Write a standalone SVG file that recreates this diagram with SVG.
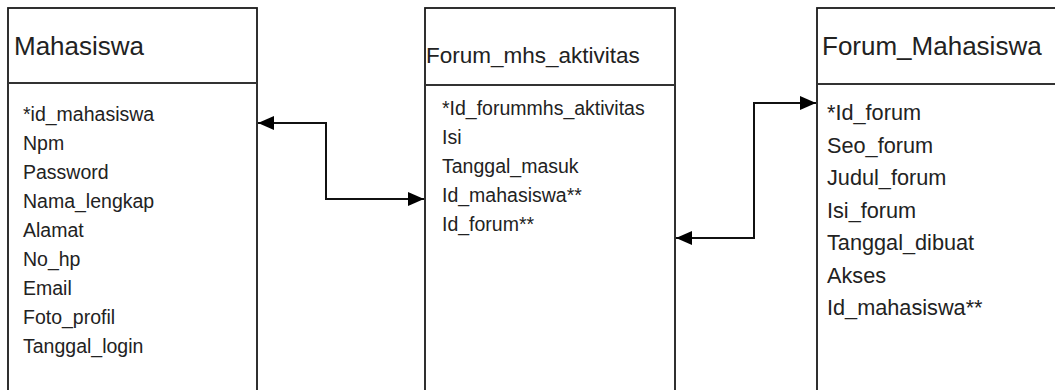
<svg xmlns="http://www.w3.org/2000/svg" width="1055" height="390" viewBox="0 0 1055 390">
<style>
.box{fill:#fff;stroke:#1a1a1a;stroke-width:1.8}
.div{stroke:#333;stroke-width:2.2}
text{font-family:"Liberation Sans",Arial,sans-serif;fill:#222}
.t{font-size:26px}
.a{font-size:19.5px}
.ar{font-size:21.7px}
.con{fill:none;stroke:#111;stroke-width:2}
</style>
<defs>
<marker id="arr" viewBox="0 0 16 14" refX="16" refY="7" markerWidth="16" markerHeight="14" markerUnits="userSpaceOnUse" orient="auto-start-reverse">
<path d="M0,0 L16,7 L0,14 z" fill="#000"/>
</marker>
</defs>
<rect width="1055" height="390" fill="#fff"/>
<g id="mahasiswa">
<rect class="box" x="8" y="8" width="249" height="386"/>
<line class="div" x1="8" y1="83" x2="257" y2="83"/>
<text class="t" x="14" y="55">Mahasiswa</text>
<text class="a" x="23" y="121">*id_mahasiswa</text>
<text class="a" x="23" y="150">Npm</text>
<text class="a" x="23" y="179">Password</text>
<text class="a" x="23" y="208">Nama_lengkap</text>
<text class="a" x="23" y="237">Alamat</text>
<text class="a" x="23" y="266">No_hp</text>
<text class="a" x="23" y="295">Email</text>
<text class="a" x="23" y="324">Foto_profil</text>
<text class="a" x="23" y="353">Tanggal_login</text>
</g>
<g id="forum_mhs_aktivitas">
<rect class="box" x="425" y="8" width="250" height="386"/>
<line class="div" x1="425" y1="85" x2="675" y2="85"/>
<text x="426" y="63" style="font-size:22.5px">Forum_mhs_aktivitas</text>
<text class="a" x="442" y="115">*Id_forummhs_aktivitas</text>
<text class="a" x="442" y="144">Isi</text>
<text class="a" x="442" y="173">Tanggal_masuk</text>
<text class="a" x="442" y="202">Id_mahasiswa**</text>
<text class="a" x="442" y="231">Id_forum**</text>
</g>
<g id="forum_mahasiswa">
<rect class="box" x="817" y="8" width="250" height="386"/>
<line class="div" x1="817" y1="84" x2="1067" y2="84"/>
<text class="t" x="822" y="55">Forum_Mahasiswa</text>
<text class="ar" x="827" y="120">*Id_forum</text>
<text class="ar" x="827" y="153">Seo_forum</text>
<text class="ar" x="827" y="185">Judul_forum</text>
<text class="ar" x="827" y="218">Isi_forum</text>
<text class="ar" x="827" y="250">Tanggal_dibuat</text>
<text class="ar" x="827" y="283">Akses</text>
<text class="ar" x="827" y="315">Id_mahasiswa**</text>
</g>
<g id="connectors">
<path class="con" d="M258 123 H326 V199 H424" marker-start="url(#arr)" marker-end="url(#arr)"/>
<path class="con" d="M676 238 H754 V103 H816" marker-start="url(#arr)" marker-end="url(#arr)"/>
</g>
</svg>
